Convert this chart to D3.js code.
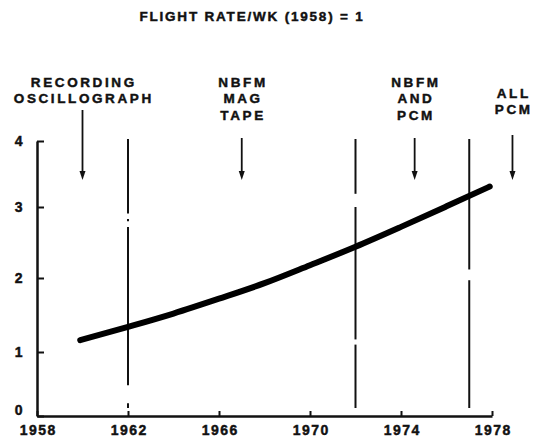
<!DOCTYPE html>
<html>
<head>
<meta charset="utf-8">
<script src="https://cdn.jsdelivr.net/npm/d3@7"></script>
<style>
  body { margin: 0; background: #fff; }
  text { font-family: "Liberation Sans", Arial, sans-serif; font-weight: bold; fill: #111; stroke: #111; stroke-width: 0.45px; }
</style>
</head>
<body>
<div id="chart"></div>
<script>
// curve
const years = [1959.9, 1962, 1964, 1966, 1968, 1970, 1972, 1974, 1976, 1977.9]
const rate  = [1.16, 1.34, 1.52, 1.72, 1.93, 2.18, 2.44, 2.72, 3.01, 3.31]

const xTicks = [1958, 1962, 1966, 1970, 1974, 1978]
const yTicks = [0, 1, 2, 3, 4]

// years where the telemetry system changed
const changeYears = [1962, 1972, 1977]
// broken bits of those lines (in rate units)
const lineBreaks = [
  [[2.72, 2.80], [2.83, 2.91], [0.20, 0.48]],
  [[3.00, 3.20], [1.10, 1.17]],
  [[1.97, 2.12]]
]

// era labels and where their arrows point
const eraNames = [
  ["RECORDING", "OSCILLOGRAPH"],
  ["NBFM", "MAG", "TAPE"],
  ["NBFM", "AND", "PCM"],
  ["ALL", "PCM"]
]
const eraYears = [1960, 1967, 1974.6, 1978.9]

const title = "FLIGHT RATE/WK (1958) = 1"

// ----------------------------------------------------------
const ancho = 535
const alto = 437
const labelTop = [82, 82, 82, 93]     // centre of first label line
const arrowTop = [110, 138, 138, 135]
const arrowBottom = 180

const svg = d3.select("#chart").append("svg")
  .attr("width", ancho).attr("height", alto)

const x = d3.scaleLinear().domain([1958, 1978]).range([37, 492])
// the scanned axis is not quite even, so the scale follows the tick marks
const y = d3.scaleLinear().domain(yTicks).range([416, 352, 278, 207, 141])

svg.append("text")
  .attr("x", 252).attr("y", 21)
  .attr("text-anchor", "middle")
  .style("font-size", "13.5px")
  .style("letter-spacing", "1.8px")
  .text(title)

// vertical lines, drawn as pieces between the breaks
changeYears.forEach((yr, i) => {
  const top = y(4) - 2
  const bottom = y(0) - 8
  const cuts = lineBreaks[i].map(b => [y(b[1]), y(b[0])]).sort((a, b) => a[0] - b[0])
  const piezas = []
  let desde = top
  cuts.forEach(c => { piezas.push([desde, c[0]]); desde = c[1] })
  piezas.push([desde, bottom])
  svg.append("g").selectAll("line").data(piezas).enter().append("line")
    .attr("x1", x(yr)).attr("x2", x(yr))
    .attr("y1", d => d[0]).attr("y2", d => d[1])
    .attr("stroke", "#111").attr("stroke-width", 2)
})

// axes
const ejeY = d3.axisLeft(y).tickValues(yTicks).tickSizeInner(-7).tickSizeOuter(0)
  .tickPadding(13).tickFormat(d3.format("d"))
const ejeX = d3.axisBottom(x).tickValues(xTicks).tickSizeInner(-5).tickSizeOuter(0)
  .tickPadding(9).tickFormat(d3.format("d"))

const grupoY = svg.append("g").attr("transform", `translate(${x(1958)},0)`).call(ejeY)
const grupoX = svg.append("g").attr("transform", `translate(0,${y(0)})`).call(ejeX)

;[grupoX, grupoY].forEach(g => {
  g.select(".domain").attr("stroke", "#111").attr("stroke-width", 2.5)
  g.selectAll(".tick line").attr("stroke", "#111").attr("stroke-width", 2)
  g.selectAll(".tick text").style("font-size", "14px").style("letter-spacing", "1.4px")
    .attr("fill", "#111")
})
grupoY.selectAll(".tick text").filter(d => d === 0).attr("y", -6)
grupoX.selectAll(".tick text").attr("dx", "0.7px")

// era labels with arrows
const eras = svg.append("g")
eraNames.forEach((lineas, i) => {
  const cx = x(eraYears[i])
  eras.append("text")
    .attr("x", cx).attr("y", labelTop[i])
    .attr("text-anchor", "middle")
    .style("font-size", "13.5px")
    .style("letter-spacing", "2.6px")
    .selectAll("tspan").data(lineas).enter().append("tspan")
      .attr("x", cx + 1.3)
      .attr("dy", (d, j) => j === 0 ? "0.36em" : "1.22em")
      .text(d => d)

  eras.append("line")
    .attr("x1", cx).attr("x2", cx)
    .attr("y1", arrowTop[i]).attr("y2", arrowBottom - 6)
    .attr("stroke", "#111").attr("stroke-width", 1.8)
  eras.append("path")
    .attr("d", `M${cx - 3},${arrowBottom - 9} L${cx + 3},${arrowBottom - 9} L${cx},${arrowBottom} Z`)
    .attr("fill", "#111")
})

// the curve
const datos = years.map((yr, i) => ({ year: yr, rate: rate[i] }))
svg.append("path")
  .datum(datos)
  .attr("fill", "none")
  .attr("stroke", "#000")
  .attr("stroke-width", 6)
  .attr("stroke-linecap", "round")
  .attr("d", d3.line().x(d => x(d.year)).y(d => y(d.rate)).curve(d3.curveMonotoneX))
</script>
</body>
</html>
